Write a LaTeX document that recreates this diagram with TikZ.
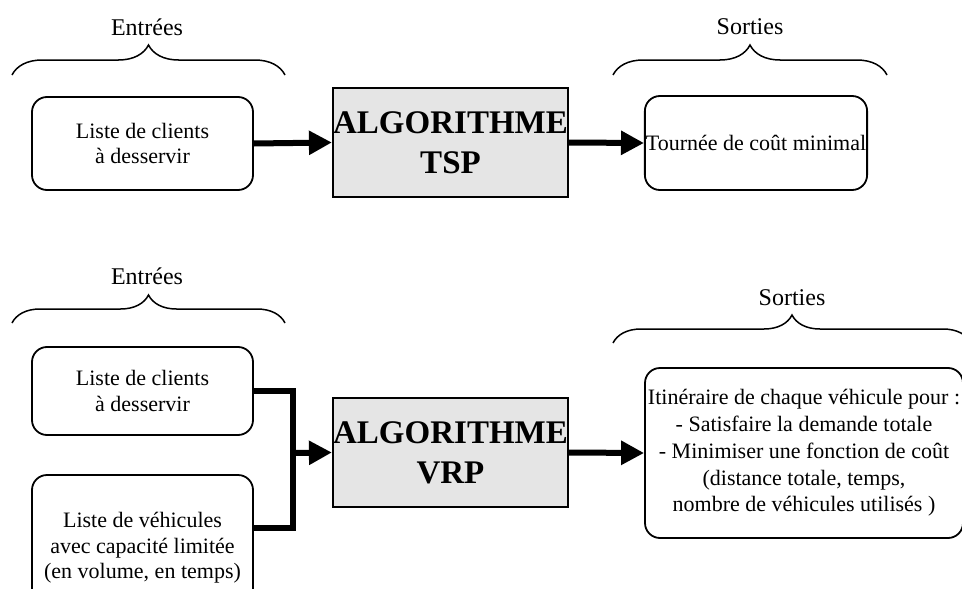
\documentclass[tikz,border=0pt]{standalone}
\usepackage{fontspec}
\setmainfont{Liberation Serif}
\usetikzlibrary{arrows.meta,decorations.pathreplacing}
\definecolor{algogray}{HTML}{E5E5E5}
\tikzset{
  inbox/.style={draw, line width=1.8pt, rounded corners=15pt, inner sep=1pt,
    align=center, font=\fontsize{22}{25.5}\selectfont},
  algobox/.style={draw, line width=2.2pt, fill=algogray, inner sep=0pt,
    minimum width=235pt, minimum height=109pt, align=center,
    font=\fontsize{33}{40}\selectfont\bfseries},
  flowarrow/.style={line width=6pt, -{Triangle[length=23pt,width=23pt]}},
  flowline/.style={line width=6pt, line join=miter},
  bracedeco/.style={decorate, line width=1.5pt,
    decoration={brace, amplitude=#1}},
  bracelabel/.style={font=\fontsize{24}{28}\selectfont}
}
\begin{document}
\begin{tikzpicture}[x=1pt,y=-1pt]
\useasboundingbox (0,0) rectangle (962,589);
\clip (0,0) rectangle (962,589);

% ---------- TSP ----------
\node[bracelabel] (lin1) at (147,27) {Entrées};
\draw[bracedeco=30pt] (12,75) -- (285,75);
\node[bracelabel] (lout1) at (750,27) {Sorties};
\draw[bracedeco=30pt] (613,75) -- (887,75);

\node[inbox, minimum width=221pt, minimum height=93pt] (in1) at (142.5,143.5)
  {Liste de clients\\à desservir};
\node[algobox] (algo1) at (450.5,142.5) {ALGORITHME\\TSP};
\node[inbox, minimum width=222pt, minimum height=94pt] (out1) at (756,143)
  {Tournée de coût minimal};

\draw[flowarrow] (in1.east) -- (algo1.west);
\draw[flowarrow] (algo1.east) -- (out1.west);

% ---------- VRP ----------
\node[bracelabel] (lin2) at (147,276) {Entrées};
\draw[bracedeco=28pt] (12,323) -- (285,323);
\node[bracelabel] (lout2) at (792,298) {Sorties};
\draw[bracedeco=28pt] (613,343) -- (971,343);

\node[inbox, minimum width=221pt, minimum height=88pt] (in2a) at (142.5,391)
  {Liste de clients\\à desservir};
\node[inbox, minimum width=221pt, minimum height=146pt] (in2b) at (142.5,548)
  {Liste de véhicules\\avec capacité limitée\\(en volume, en temps)};
\node[algobox] (algo2) at (450.5,452.5) {ALGORITHME\\VRP};
\node[inbox, minimum width=318pt, minimum height=170pt, font=\fontsize{22}{26.8}\selectfont] (out2) at (804,453)
  {Itinéraire de chaque véhicule pour :\\- Satisfaire la demande totale\\- Minimiser une fonction de coût\\(distance totale, temps,\\nombre de véhicules utilisés )};

\coordinate (jtop) at (293,391);
\coordinate (jbot) at (293,528);
\coordinate (jmid) at (293,453);
\draw[flowline] (in2a.east) -- (jtop) -- (jbot) -- ([yshift=20pt]in2b.east);
\draw[flowarrow] (jmid) -- (algo2.west);
\draw[flowarrow] (algo2.east) -- (out2.west);
\end{tikzpicture}
\end{document}
